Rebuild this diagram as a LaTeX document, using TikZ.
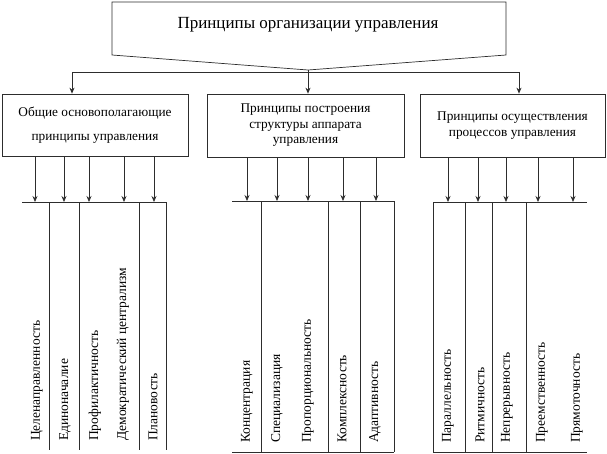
\documentclass[tikz,border=0pt]{standalone}
\usepackage{fontspec}
\setmainfont{Liberation Serif}
\usetikzlibrary{arrows.meta,calc}
\definecolor{lineclr}{RGB}{45,45,45}
\tikzset{
  rule/.style={line width=0.7pt,draw=lineclr},
  arr/.style={rule,-{Stealth[length=6pt,width=5pt]}},
  arrs/.style={rule,{Stealth[length=6pt,width=5pt]}-{Stealth[length=6pt,width=5pt]}},
  box/.style={rectangle,rule,align=center,inner sep=2pt,
              font=\fontsize{13.3}{15.5}\selectfont},
  lbl/.style={rotate=90,anchor=west,inner sep=0pt,
              font=\fontsize{13.5}{15}\selectfont},
  ttl/.style={inner sep=0pt,font=\fontsize{17}{20}\selectfont},
}

\begin{document}
\begin{tikzpicture}[x=1pt,y=-1pt]
\useasboundingbox (0,0) rectangle (607,453);

\coordinate (tip) at (308,70);
\draw[rule] (112,55) -- (112,2) -- (506,2) -- (506,55) -- (tip) -- cycle;
\node[ttl] (title) at (308,25) {Принципы организации управления};

\node[box,minimum width=186pt,minimum height=62pt] (lbox) at (95,125)
  {Общие основополагающие\\[9pt]принципы управления};
\node[box,minimum width=197pt,minimum height=63pt] (mbox) at (305.5,125.5)
  {Принципы построения\\структуры аппарата\\управления};
\node[box,minimum width=185pt,minimum height=63pt] (rbox) at (512.5,125.5)
  {Принципы осуществления\\процессов управления};

\coordinate (jl) at (72,72);
\coordinate (jr) at (519,72);
\draw[arrs] (jl |- lbox.north) -- (jl) -- (jr) -- (jr |- rbox.north);
\draw[arr] (tip) -- (tip |- mbox.north);

% left group
\coordinate (lbw) at (22,202);
\coordinate (lbe) at (166,202);
\draw[rule] (lbw) -- (lbe);
\foreach \x [count=\i] in {35,64,89,124,154} {
  \coordinate (la\i) at (\x,202);
  \draw[arr] (lbox.south -| la\i) -- (la\i);
}
\foreach \x in {49,79,139,166} \draw[rule] (\x,202) -- (\x,450);
\foreach \x/\t [count=\i] in {37/Целенаправленность,65/Единоначалие,
    95/Профилактичность,123/Демократический централизм,153/Плановость}
  \node[lbl] (lp\i) at (\x,441) {\t};

% middle group
\coordinate (mbw) at (232,201);
\coordinate (mbe) at (394,201);
\draw[rule] (mbw) -- (mbe);
\draw[rule] (mbw |- 0,452) -- (mbe |- 0,452);
\foreach \x [count=\i] in {247,277,308,343,376} {
  \coordinate (ma\i) at (\x,201);
  \draw[arr] (mbox.south -| ma\i) -- (ma\i);
}
\foreach \x in {261,328,360,394} \draw[rule] (\x,201) -- (\x,452);
\foreach \x/\t [count=\i] in {247/Концентрация,277/Специализация,
    308/Пропорциональность,342/Комплексность,375/Адаптивность}
  \node[lbl] (mp\i) at (\x,443) {\t};

% right group
\coordinate (rbw) at (433,202);
\coordinate (rbe) at (587,202);
\draw[rule] (rbw) -- (rbe);
\draw[rule] (rbw |- 0,452) -- (rbe |- 0,452);
\foreach \x [count=\i] in {448,478,506,538,573} {
  \coordinate (ra\i) at (\x,202);
  \draw[arr] (rbox.south -| ra\i) -- (ra\i);
}
\foreach \x in {433,465,492,526} \draw[rule] (\x,202) -- (\x,452);
\foreach \x/\t [count=\i] in {448/Параллельность,480/Ритмичность,
    507/Непрерывность,542/Преемственность,577/Прямоточность}
  \node[lbl] (rp\i) at (\x,443) {\t};
\end{tikzpicture}
\end{document}
